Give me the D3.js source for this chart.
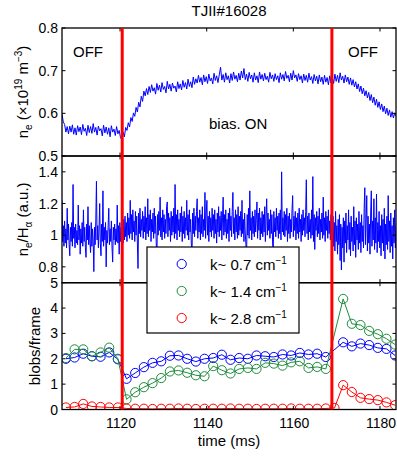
<!DOCTYPE html>
<html><head><meta charset="utf-8">
<script src="https://cdn.jsdelivr.net/npm/d3@7"></script>
<style>
body{margin:0;background:#fff}
svg{display:block}
text{font-family:"Liberation Sans",Arial,Helvetica,sans-serif;fill:#000}
</style>
</head><body>
<svg id="c" width="397" height="457"></svg>
<script>
// ---------------- data ----------------
const chartTitle = "TJII#16028";
const xDomain = [1106.6, 1183.7];
const xTicks = [1120, 1140, 1160, 1180];
const biasLines = [1120.5, 1168.9];

// density trace, sampled every 0.3 ms from 1106.6 ms
const neStart = 1106.6, neStep = 0.3;
const neValues = [
0.598,0.580,0.574,0.556,0.569,
0.552,0.570,0.556,0.573,0.551,0.566,0.549,0.571,0.557,0.568,
0.550,0.574,0.558,0.565,0.548,0.572,0.555,0.569,0.553,0.576,
0.556,0.567,0.549,0.570,0.559,0.564,0.547,0.572,0.554,0.568,
0.551,0.566,0.545,0.571,0.556,0.563,0.548,0.569,0.552,0.560,0.543,
0.538,0.556,0.545,0.567,0.560,
0.578,0.568,0.590,0.581,0.601,0.593,0.614,0.603,0.626,0.615,0.640,0.628,0.652,0.641,
0.658,0.644,0.663,0.649,0.667,0.652,0.660,0.645,0.670,0.654,
0.666,0.650,0.672,0.656,0.663,0.648,0.675,0.657,0.668,0.652,
0.671,0.659,0.664,0.650,0.674,0.658,0.669,0.655,0.677,0.661,
0.672,0.657,0.680,0.663,0.674,0.660,
0.685,0.668,0.681,0.671,0.689,0.673,0.684,0.667,0.690,0.674,
0.686,0.670,0.692,0.676,0.683,0.669,0.694,0.677,0.688,0.672,
0.690,0.708,0.678,0.691,0.673,0.695,0.679,0.688,0.671,0.693,
0.677,0.697,0.680,0.689,0.674,0.694,0.678,0.699,0.683,0.705,
0.679,0.692,0.675,0.696,0.681,0.690,0.673,0.695,0.678,0.688,
0.672,0.697,0.680,0.691,0.676,0.694,0.679,0.687,0.673,0.696,
0.681,0.690,0.675,0.693,0.679,0.688,0.672,0.695,0.680,0.691,
0.676,0.698,0.682,0.689,0.674,0.694,0.678,0.700,0.683,0.690,
0.675,0.693,0.679,0.688,0.671,0.692,0.677,0.689,0.673,0.694,
0.678,0.686,0.670,0.691,0.676,0.687,0.669,0.690,0.674,0.685,
0.668,0.689,0.673,0.684,0.667,0.688,0.671,
0.684,0.670,0.692,0.675,0.689,0.672,0.695,0.678,0.687,0.671,
0.690,0.674,0.685,0.668,0.683,0.666,0.679,
0.662,0.674,0.657,0.669,0.651,0.664,0.646,0.659,0.641,0.653,
0.636,0.649,0.630,0.644,0.625,0.638,0.619,0.633,0.614,0.627,
0.609,0.622,0.604,0.617,0.599,0.612,0.595,0.608,0.591,0.604,
0.589,0.601,0.593
];

// ne/H_alpha trace, sampled every 0.15 ms from 1106.6 ms
const ratioStart = 1106.6, ratioStep = 0.15;
const ratioValues = [
1.22,0.96,1.06,0.93,1.09,0.95,1.04,0.92,1.17,0.97,
1.07,0.94,0.87,1.05,0.96,1.08,0.93,1.32,0.98,1.05,
0.92,1.07,0.95,1.03,0.94,1.19,0.97,1.06,0.88,1.04,
0.95,1.08,0.93,1.16,0.96,1.05,0.92,0.86,1.07,0.97,
1.18,0.94,1.06,0.95,0.89,1.08,0.93,1.04,0.96,0.77,
1.05,0.94,1.09,1.34,0.97,1.06,0.92,1.04,1.20,0.95,
0.87,1.07,0.96,1.28,0.93,1.05,0.97,1.08,0.80,1.03,
0.95,1.06,1.17,0.94,1.04,0.96,1.09,0.92,0.83,1.05,
0.97,1.07,0.94,1.04,0.96,1.19,0.95,1.06,0.88,1.08,
0.96,1.05,0.94,
1.02,0.95,1.10,0.97,1.12,0.99,1.08,0.96,1.14,1.00,
1.11,0.98,1.22,1.01,1.13,0.97,1.16,1.02,1.09,0.96,
1.15,1.00,1.12,0.95,0.79,1.14,1.01,1.17,0.99,1.10,
1.03,1.15,0.98,1.12,1.02,1.18,0.97,1.11,1.01,1.23,
0.99,1.13,1.03,1.16,0.96,1.10,1.02,1.14,0.98,1.17,
1.01,1.12,0.95,0.85,1.13,1.00,1.15,1.03,1.24,0.99,
1.11,0.97,1.16,1.02,1.13,0.98,1.10,1.01,1.18,1.21,
0.99,1.14,1.03,1.11,0.96,1.15,1.00,1.12,1.02,1.17,
0.98,1.32,1.01,1.13,0.97,1.16,1.03,1.10,0.99,1.14,
1.02,1.18,0.96,1.12,1.01,1.15,0.98,1.11,1.03,1.22,
1.00,1.13,0.97,1.16,1.02,1.10,0.95,0.86,1.14,1.01,
1.17,0.99,1.12,1.03,1.15,1.23,0.98,1.11,1.02,1.16,
0.97,1.13,1.01,1.18,0.99,1.10,1.03,1.27,0.98,1.14,
1.22,1.00,1.12,0.96,1.15,1.02,1.11,0.99,1.17,1.03,
1.13,0.98,1.16,1.01,1.10,0.95,1.14,1.02,1.18,0.99,
1.12,1.03,1.15,0.97,1.11,1.24,1.00,1.13,1.02,1.16,
0.98,1.10,1.01,1.14,0.96,1.17,1.03,1.12,0.99,1.15,
1.27,1.01,1.11,0.97,1.16,1.02,1.13,0.98,1.18,1.00,
1.12,1.03,1.15,0.99,1.22,1.01,1.10,0.96,1.14,1.02,
0.94,0.85,1.13,1.00,1.17,0.98,1.28,1.03,1.11,0.97,
1.15,1.01,1.12,0.99,1.16,1.02,1.10,1.21,0.98,1.14,
1.03,1.17,0.97,1.11,1.01,1.15,0.99,1.13,1.02,1.18,
0.96,1.12,1.23,1.00,1.14,1.03,1.10,0.98,1.16,1.01,
1.13,0.97,0.86,1.15,1.02,1.11,0.99,1.17,1.03,1.12,
0.98,1.14,1.01,1.16,0.97,1.40,1.02,1.11,1.00,1.15,
0.99,1.13,1.03,1.17,0.96,1.12,1.01,1.14,0.98,1.10,
1.02,1.16,1.25,0.99,1.12,1.03,1.15,0.97,1.11,1.01,
1.14,0.98,1.17,1.02,1.10,0.96,1.13,1.00,1.16,1.03,
1.11,0.99,1.15,1.35,1.01,1.12,0.97,1.14,1.02,1.10,
0.98,1.16,1.00,1.37,0.96,1.13,0.91,1.11,1.03,1.15,
0.99,1.12,1.01,1.17,0.97,1.10,1.02,1.14,0.98,1.24,
1.00,1.11,0.96,1.15,1.03,1.12,0.98,1.16,1.01,1.09,
0.97,1.13,1.00,
0.95,1.12,0.93,1.08,0.90,1.15,0.96,1.06,0.88,1.10,
0.94,1.13,0.84,1.07,0.78,1.05,0.92,1.11,0.83,1.09,
0.95,1.14,0.89,1.06,0.97,1.16,0.91,1.08,0.87,1.12,
0.96,1.05,0.90,1.18,0.94,1.09,0.86,1.11,0.97,1.07,
0.91,1.15,0.95,1.08,0.89,1.13,0.96,1.06,0.92,1.17,
1.30,0.94,1.10,1.25,0.90,1.12,0.95,1.07,0.88,1.14,
1.28,0.93,1.09,0.97,1.23,0.91,1.11,0.95,1.26,0.89,
1.08,0.96,1.15,0.92,1.06,0.87,1.13,0.95,1.10,0.90,
1.17,0.85,1.07,0.94,1.12,0.91,1.25,0.96,1.09,0.89,
1.14,0.93,1.06,0.85,1.11,0.95,1.16,0.92,1.06
];

const neTicks = [0.5, 0.6, 0.7, 0.8];
const ratioTicks = [0.8, 1, 1.2, 1.4];
const blobTicks = [0, 1, 2, 3, 4, 5];

const blobTimes = [
1107.5,1109.5,1111.5,1113.5,1115.5,1117.5,1119.5,
1121.5,1123.5,1125.5,1127.5,1129.5,1131.5,1133.5,1135.5,1137.5,1139.5,
1141.5,1143.5,1145.5,1147.5,1149.5,1151.5,1153.5,1155.5,1157.5,1159.5,
1161.5,1163.5,1165.5,1167.5,1169.5,
1171.5,1173.5,1175.5,1177.5,1179.5,1181.5,1183.5
];
const blobK07 = [
2.00,2.05,2.20,2.10,2.08,2.25,1.98,
1.21,1.44,1.67,1.84,1.90,2.12,2.13,2.00,1.89,2.00,
2.03,2.16,1.96,2.03,2.00,2.13,2.10,2.07,2.17,2.13,
2.23,2.17,2.20,2.07,null,
2.65,2.49,2.60,2.54,2.43,2.39,2.13
];
const blobK14 = [
2.03,2.37,2.37,2.10,2.25,2.44,2.00,
0.40,0.68,0.88,1.04,1.24,1.50,1.54,1.45,1.35,1.31,
1.71,1.55,1.42,1.60,1.64,1.60,1.84,1.81,1.73,1.86,
1.90,1.64,1.68,1.60,null,
4.36,3.38,3.33,3.10,2.97,2.79,2.56
];
const blobK28 = [
0.08,0.10,0.22,0.12,0.10,0.08,0.08,
0.04,0.03,0.03,0.02,0.03,0.03,0.04,0.03,0.02,0.03,
0.03,0.03,0.04,0.03,0.03,0.02,0.03,0.03,0.03,0.04,
0.03,0.03,0.03,0.04,0.06,
0.96,0.69,0.46,0.41,0.37,0.28,0.17
];
const seriesNames = ["k~ 0.7 cm", "k~ 1.4 cm", "k~ 2.8 cm"];
const seriesColors = ["#0000ff", "#1e8c3c", "#ff0000"];

// ---------------- layout ----------------
const svg = d3.select("#c");
const L = 62, R = 396;
const panels = [
  {top: 28, bottom: 156, domain: [0.5, 0.8], ticks: neTicks},
  {top: 156, bottom: 282.7, domain: [0.7, 1.5], ticks: ratioTicks},
  {top: 282.7, bottom: 409.5, domain: [0, 5], ticks: blobTicks}
];
const x = d3.scaleLinear().domain(xDomain).range([L, R]);
panels.forEach(p => p.y = d3.scaleLinear().domain(p.domain).range([p.bottom, p.top]));

const defs = svg.append("defs");
panels.forEach((p, i) => {
  defs.append("clipPath").attr("id", "clip" + i).append("rect")
    .attr("x", L).attr("y", p.top).attr("width", R - L).attr("height", p.bottom - p.top);
});

const fmt = v => String(+v.toFixed(2));
const tickLen = 3.5;

// traces
const neData = neValues.map((v, i) => [neStart + i * neStep, v]);
const ratioData = ratioValues.map((v, i) => [ratioStart + i * ratioStep, v]);
[[neData, 0], [ratioData, 1]].forEach(([data, pi]) => {
  const p = panels[pi];
  svg.append("path").attr("clip-path", "url(#clip" + pi + ")")
    .attr("d", d3.line().x(d => x(d[0])).y(d => p.y(d[1]))(data))
    .attr("fill", "none").attr("stroke", "#0000ff").attr("stroke-width", 1)
    .attr("stroke-linejoin", "miter");
});

// blobs
const pb = panels[2];
[blobK07, blobK14, blobK28].forEach((vals, si) => {
  const data = blobTimes.map((t, i) => [t, vals[i]]).filter(d => d[1] !== null);
  const g = svg.append("g").attr("clip-path", "url(#clip2)");
  g.append("path").attr("d", d3.line().x(d => x(d[0])).y(d => pb.y(d[1]))(data))
    .attr("fill", "none").attr("stroke", seriesColors[si]).attr("stroke-width", 1);
  g.selectAll("circle").data(data).join("circle")
    .attr("cx", d => x(d[0])).attr("cy", d => pb.y(d[1])).attr("r", 4.6)
    .attr("fill", "none").attr("stroke", seriesColors[si]).attr("stroke-width", 1);
});

// frames and ticks
panels.forEach((p, i) => {
  const g = svg.append("g");
  g.append("rect").attr("x", L).attr("y", p.top).attr("width", R - L).attr("height", p.bottom - p.top)
    .attr("fill", "none").attr("stroke", "#000").attr("stroke-width", 1.3);
  xTicks.forEach(t => {
    g.append("line").attr("x1", x(t)).attr("x2", x(t)).attr("y1", p.bottom).attr("y2", p.bottom - tickLen)
      .attr("stroke", "#000");
    g.append("line").attr("x1", x(t)).attr("x2", x(t)).attr("y1", p.top).attr("y2", p.top + tickLen)
      .attr("stroke", "#000");
  });
  p.ticks.forEach(t => {
    g.append("line").attr("x1", L).attr("x2", L + tickLen).attr("y1", p.y(t)).attr("y2", p.y(t)).attr("stroke", "#000");
    g.append("line").attr("x1", R).attr("x2", R - tickLen).attr("y1", p.y(t)).attr("y2", p.y(t)).attr("stroke", "#000");
    g.append("text").attr("x", L - 4).attr("y", p.y(t) + 5).attr("text-anchor", "end")
      .attr("font-size", 14).text(fmt(t));
  });
});
xTicks.forEach(t => {
  svg.append("text").attr("x", x(t) + 1).attr("y", 428).attr("text-anchor", "middle")
    .attr("font-size", 14).text(t);
});

// bias switching lines
biasLines.forEach(t => {
  svg.append("line").attr("x1", x(t)).attr("x2", x(t)).attr("y1", panels[0].top).attr("y2", panels[2].bottom)
    .attr("stroke", "#ff0000").attr("stroke-width", 3);
});

// titles & labels
svg.append("text").attr("x", (L + R) / 2).attr("y", 16).attr("text-anchor", "middle")
  .attr("font-size", 15).text(chartTitle);
svg.append("text").attr("x", (L + R) / 2).attr("y", 446).attr("text-anchor", "middle")
  .attr("font-size", 15).text("time (ms)");

function ylabel(xpos, ycen, parts) {
  const t = svg.append("text").attr("transform", `translate(${xpos},${ycen}) rotate(-90)`)
    .attr("text-anchor", "middle").attr("font-size", 15);
  let shift = 0;
  parts.forEach(([s, kind]) => {
    const ts = t.append("tspan").text(s);
    let target = kind === "sub" ? 4 : kind === "sup" ? -6 : 0;
    ts.attr("dy", target - shift);
    shift = target;
    if (kind) ts.attr("font-size", 10);
  });
}
ylabel(28, (panels[0].top + panels[0].bottom) / 2,
  [["n", null], ["e", "sub"], [" (×10", null], ["19", "sup"], [" m", null], ["−3", "sup"], [")", null]]);
ylabel(28, (panels[1].top + panels[1].bottom) / 2,
  [["n", null], ["e", "sub"], ["/H", null], ["α", "sub"], [" (a.u.)", null]]);
ylabel(39.5, (panels[2].top + panels[2].bottom) / 2, [["blobs/frame", null]]);

// annotations
svg.append("text").attr("x", 73).attr("y", 57).attr("font-size", 15).text("OFF");
svg.append("text").attr("x", 348).attr("y", 57).attr("font-size", 15).text("OFF");
svg.append("text").attr("x", 209).attr("y", 129).attr("font-size", 15).text("bias. ON");

// legend
const lg = svg.append("g");
lg.append("rect").attr("x", 147).attr("y", 247).attr("width", 152).attr("height", 86)
  .attr("fill", "#fff").attr("stroke", "#000").attr("stroke-width", 1.2);
seriesNames.forEach((name, i) => {
  const cy = 264 + i * 27;
  lg.append("circle").attr("cx", 181.7).attr("cy", cy).attr("r", 4.6)
    .attr("fill", "none").attr("stroke", seriesColors[i]);
  const t = lg.append("text").attr("x", 210).attr("y", cy + 5.5).attr("font-size", 15);
  t.append("tspan").text(name);
  t.append("tspan").attr("dy", -6).attr("font-size", 10).text("−1");
});
</script>
</body></html>
